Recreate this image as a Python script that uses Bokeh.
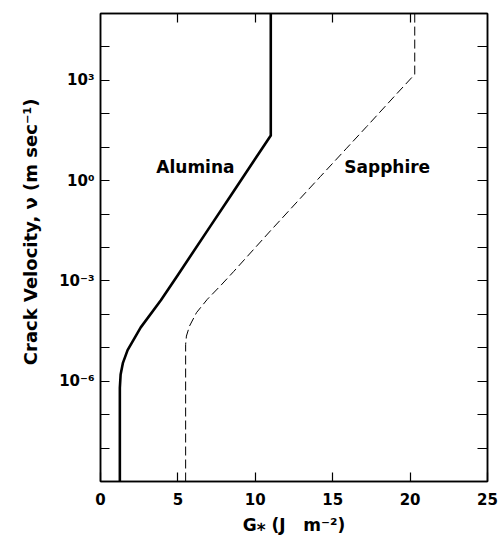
from bokeh.plotting import figure
from bokeh.models import (FixedTicker, CustomJSTickFormatter, LogAxis, LinearAxis,
                          ColumnDataSource)
from bokeh.core.properties import value
from bokeh.embed import file_html
from bokeh.resources import INLINE

# ---------------- data ----------------
x_ticks = [0, 5, 10, 15, 20, 25]
top_ticks = [5, 10, 15, 20]
y_tick_exponents = list(range(-9, 6))
y_label_exponents = [3, 0, -3, -6]
y_tick_labels = ["10³", "10⁰", "10⁻³", "10⁻⁶"]

# Alumina (solid): G* in J m^-2, log10 of crack velocity in m/s
alumina_G = [1.25, 1.25, 1.3, 1.45, 1.75, 2.6, 3.9, 5.0, 7.1, 8.4, 10.45, 11.0, 11.0]
alumina_logv = [-9.0, -6.2, -5.8, -5.45, -5.07, -4.39, -3.58, -2.82, -1.36, -0.46, 0.97, 1.35, 5.0]

# Sapphire (dashed)
sapphire_G = [5.5, 5.5, 5.55, 5.75, 6.2, 6.9, 7.8, 8.6, 11.0, 14.2, 15.9, 17.2, 19.1, 20.3, 20.3]
sapphire_logv = [-9.0, -4.9, -4.65, -4.35, -3.95, -3.55, -3.12, -2.72, -1.49, 0.12, 0.97, 1.62, 2.58, 3.18, 5.0]

curve_names = ["Alumina", "Sapphire"]
name_G = [6.13, 18.52]
name_logv = [0.42, 0.42]

FONT = "DejaVu Sans"
NB = "\u00a0"

p = figure(width=500, height=538, x_range=(0, 25), y_range=(1e-9, 1e5),
           y_axis_type="log", output_backend="svg", toolbar_location=None,
           min_border_left=100, min_border_right=13, min_border_top=13,
           min_border_bottom=57)
p.background_fill_color = "white"
p.border_fill_color = "white"
p.xgrid.visible = False
p.ygrid.visible = False
p.outline_line_color = "black"
p.outline_line_width = 1.5

# bottom axis
xa = p.xaxis[0]
xa.ticker = FixedTicker(ticks=x_ticks)
xa.major_tick_in = 9
xa.major_tick_out = 0
xa.minor_tick_in = 0
xa.minor_tick_out = 0
xa.axis_line_width = 1.5
xa.major_tick_line_width = 1.2
xa.major_label_standoff = 11
xa.major_label_text_font = FONT
xa.major_label_text_font_style = "bold"
xa.major_label_text_font_size = "15px"
xa.major_label_text_color = "black"
xa.axis_label = "G⁎" + NB + "(J" + NB * 3 + "m⁻²)"
xa.axis_label_text_font = FONT
xa.axis_label_text_font_style = "bold"
xa.axis_label_text_font_size = "17px"
xa.axis_label_text_color = "black"
xa.axis_label_standoff = 7

# left axis
ya = p.yaxis[0]
ya.ticker = FixedTicker(ticks=[10.0 ** e for e in y_tick_exponents])
ya.formatter = CustomJSTickFormatter(
    args=dict(exps=y_label_exponents, labels=y_tick_labels),
    code="const e = Math.round(Math.log10(tick)); const i = exps.indexOf(e); return i >= 0 ? labels[i] : '';")
ya.major_tick_in = 9
ya.major_tick_out = 0
ya.minor_tick_in = 0
ya.minor_tick_out = 0
ya.axis_line_width = 1.5
ya.major_tick_line_width = 1.2
ya.major_label_standoff = 6
ya.major_label_text_font = FONT
ya.major_label_text_font_style = "bold"
ya.major_label_text_font_size = "15px"
ya.major_label_text_color = "black"
ya.axis_label = NB * 5 + "Crack Velocity, ν (m sec⁻¹)"
ya.axis_label_text_font = FONT
ya.axis_label_text_font_style = "bold"
ya.axis_label_text_font_size = "18px"
ya.axis_label_text_color = "black"
ya.axis_label_standoff = 15

# right axis (ticks only)
ra = LogAxis(ticker=FixedTicker(ticks=[10.0 ** e for e in y_tick_exponents]),
             formatter=CustomJSTickFormatter(code="return '';"),
             major_tick_in=10, major_tick_out=0, minor_tick_in=0, minor_tick_out=0,
             axis_line_width=1.5, major_tick_line_width=1.2, major_label_standoff=0)
p.add_layout(ra, "right")

# top axis (ticks only)
ta = LinearAxis(ticker=FixedTicker(ticks=top_ticks),
                formatter=CustomJSTickFormatter(code="return '';"),
                major_tick_in=9, major_tick_out=0, minor_tick_in=0, minor_tick_out=0,
                axis_line_width=1.5, major_tick_line_width=1.2, major_label_standoff=0)
p.add_layout(ta, "above")

# curves
al_src = ColumnDataSource(dict(G=alumina_G, v=[10.0 ** e for e in alumina_logv]))
sa_src = ColumnDataSource(dict(G=sapphire_G, v=[10.0 ** e for e in sapphire_logv]))
p.line("G", "v", source=al_src, line_color="black", line_width=2.6, line_join="round")
p.line("G", "v", source=sa_src, line_color="black", line_width=1.0, line_dash="9 4")

# curve names
nm_src = ColumnDataSource(dict(G=name_G, v=[10.0 ** e for e in name_logv], t=curve_names))
p.text("G", "v", text="t", source=nm_src, text_font=value(FONT), text_font_style="bold",
       text_font_size="17px", text_align="center", text_baseline="middle", text_color="black")

open("out.html", "w").write(file_html(p, INLINE))
